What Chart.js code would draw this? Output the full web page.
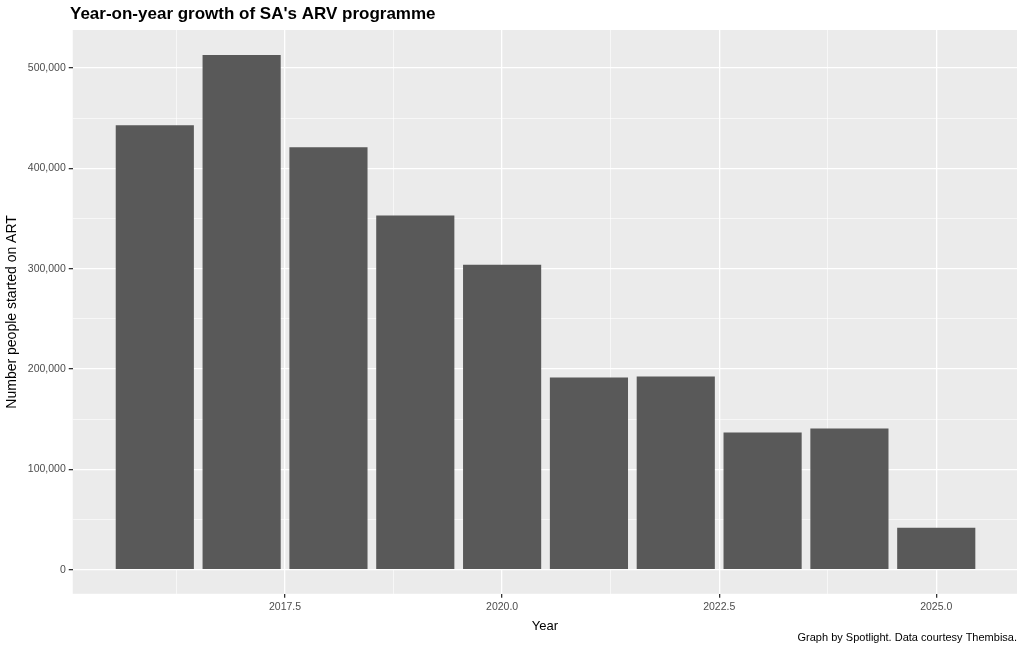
<!DOCTYPE html>
<html>
<head>
<meta charset="utf-8">
<script src="https://cdn.jsdelivr.net/npm/chart.js@4"></script>
<style>
  html, body { margin: 0; padding: 0; background: #fff; }
  #wrap { width: 1024px; height: 652px; position: relative; }
</style>
</head>
<body>
<div id="wrap"><canvas id="c"></canvas></div>
<script>
const years = [2016, 2017, 2018, 2019, 2020, 2021, 2022, 2023, 2024, 2025];
const started = [443000, 513000, 421000, 353000, 304000, 191600, 192600, 136700, 140700, 41900];
const xTicks = [2016.25, 2017.5, 2018.75, 2020.0, 2021.25, 2022.5, 2023.75, 2025.0];
const yTicks = [0, 50000, 100000, 150000, 200000, 250000, 300000, 350000, 400000, 450000, 500000];

const isMajorX = v => Math.abs((v / 2.5) - Math.round(v / 2.5)) < 1e-6;
const isMajorY = v => Math.abs(v % 100000) < 1e-6;
const tv = c => (c && c.tick) ? c.tick.value : NaN;

// panel background + title + caption
const ggDecor = {
  id: "ggDecor",
  beforeDraw(chart) {
    const { ctx, chartArea: a } = chart;
    ctx.save();
    ctx.fillStyle = "#EBEBEB";
    ctx.fillRect(a.left, a.top, a.right - a.left, a.bottom - a.top);
    ctx.restore();
  },
  afterDraw(chart) {
    const { ctx } = chart;
    ctx.save();
    ctx.fillStyle = "#000";
    ctx.font = "bold 17px 'Liberation Sans', Arial, sans-serif";
    ctx.textBaseline = "middle";
    ctx.textAlign = "left";
    ctx.fillText("Year-on-year growth of SA's ARV programme", 70, 14);
    ctx.font = "11px 'Liberation Sans', Arial, sans-serif";
    ctx.textAlign = "right";
    ctx.fillText("Graph by Spotlight. Data courtesy Thembisa.", 1017, 638);
    ctx.restore();
  }
};

new Chart(document.getElementById("c"), {
  type: "bar",
  data: {
    datasets: [{
      data: years.map((y, i) => ({ x: y, y: started[i] })),
      backgroundColor: "#595959",
      barPercentage: 0.9,
      categoryPercentage: 1.0
    }]
  },
  options: {
    responsive: true,
    maintainAspectRatio: false,
    animation: false,
    layout: { padding: { top: 30, right: 7, bottom: 18, left: 4 } },
    plugins: { legend: { display: false }, tooltip: { enabled: false } },
    scales: {
      x: {
        type: "linear",
        offset: false,
        min: 2015.055,
        max: 2025.93,
        afterBuildTicks: s => { s.ticks = xTicks.map(v => ({ value: v })); },
        border: { display: false },
        grid: {
          offset: false,
          color: "#FFFFFF",
          lineWidth: c => isMajorX(tv(c)) ? 1.3 : 0.6,
          tickColor: c => isMajorX(tv(c)) ? "#333333" : "rgba(0,0,0,0)",
          tickLength: 4
        },
        ticks: {
          color: "#4D4D4D",
          font: { size: 10.5, family: "'Liberation Sans', Arial, sans-serif" },
          padding: 3,
          maxRotation: 0,
          autoSkip: false,
          callback: v => isMajorX(v) ? v.toFixed(1) : ""
        },
        title: {
          display: true, text: "Year", color: "#000",
          font: { size: 13, family: "'Liberation Sans', Arial, sans-serif" },
          padding: { top: 2, bottom: 0 }
        }
      },
      y: {
        min: -24000,
        max: 538000,
        afterBuildTicks: s => { s.ticks = yTicks.map(v => ({ value: v })); },
        border: { display: false },
        grid: {
          color: "#FFFFFF",
          lineWidth: c => isMajorY(tv(c)) ? 1.3 : 0.6,
          tickColor: c => isMajorY(tv(c)) ? "#333333" : "rgba(0,0,0,0)",
          tickLength: 4
        },
        ticks: {
          color: "#4D4D4D",
          font: { size: 10.5, family: "'Liberation Sans', Arial, sans-serif" },
          padding: 3,
          autoSkip: false,
          callback: v => isMajorY(v) ? v.toLocaleString("en-US") : ""
        },
        title: {
          display: true, text: "Number people started on ART", color: "#000",
          font: { size: 14, family: "'Liberation Sans', Arial, sans-serif" },
          padding: { top: 0, bottom: 4 }
        }
      }
    }
  },
  plugins: [ggDecor]
});
</script>
</body>
</html>
